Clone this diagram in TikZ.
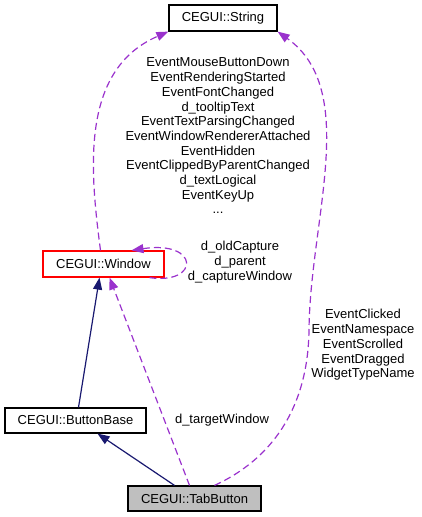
\documentclass[tikz,border=0pt]{standalone}
\usepackage{fontspec}
\setmainfont{Liberation Sans}
\usetikzlibrary{shapes, arrows.meta, positioning}
\definecolor{edgeblue}{HTML}{191970}
\definecolor{edgepurple}{HTML}{9A32CD}
\definecolor{boxred}{HTML}{FF0000}
\definecolor{boxgray}{HTML}{BFBFBF}
\tikzstyle{block}=[draw=black,fill=white,rectangle,inner sep=0pt,minimum height=26pt,line width=1.2pt]
\tikzstyle{every node}=[font=\fontsize{13}{14.7}\selectfont]
\tikzstyle{inherit}=[->,draw=edgeblue,line width=1.2pt]
\tikzstyle{uses}=[->,draw=edgepurple,line width=1.2pt,dash pattern=on 7pt off 4pt]
\tikzstyle{lbl}=[align=center,inner sep=0pt]

\begin{document}
\begin{tikzpicture}[x=1pt,y=-1pt,>={Triangle[length=12pt,width=9pt]}]
    \useasboundingbox (0,0) rectangle (421,517);
    \node[block,minimum width=108pt] (str) at (223,18) {CEGUI::String};
    \node[block,draw=boxred,minimum width=121pt] (win) at (103.5,264) {CEGUI::Window};
    \node[block,minimum width=141pt,minimum height=25pt] (bb) at (75.5,420.5) {CEGUI::ButtonBase};
    \node[block,fill=boxgray,minimum width=133pt,minimum height=25pt] (tab) at (194.5,498.5) {CEGUI::TabButton};
    \node[lbl] (strlbl) at (218,136) {EventMouseButtonDown\\EventRenderingStarted\\EventFontChanged\\d\_tooltipText\\EventTextParsingChanged\\EventWindowRendererAttached\\EventHidden\\EventClippedByParentChanged\\d\_textLogical\\EventKeyUp\\...};
    \node[lbl] (looplbl) at (240,262) {d\_oldCapture\\d\_parent\\d\_captureWindow};
    \node[lbl] (tablbl) at (363,345) {EventClicked\\EventNamespace\\EventScrolled\\EventDragged\\WidgetTypeName};
    \node[lbl] (targetlbl) at (222,420) {d\_targetWindow};
    \draw[uses] ([xshift=-3]win.north) .. controls (90,170) and (80,70) .. (str.south west);
    \draw[uses] ([xshift=46]win.south) .. controls (200,285) and (200,240) .. ([xshift=28]win.north);
    \draw[uses] ([xshift=20]tab.north) .. controls (270,460) and (308,410) .. (309,330)
        .. controls (310,220) and (360,90) .. (str.south east);
    \draw[uses] ([xshift=-5]tab.north) -- ([xshift=6]win.south);
    \draw[inherit] ([xshift=3]bb.north) -- ([xshift=-4]win.south);
    \draw[inherit] ([xshift=-20]tab.north) -- ([xshift=22]bb.south);
\end{tikzpicture}
\end{document}
